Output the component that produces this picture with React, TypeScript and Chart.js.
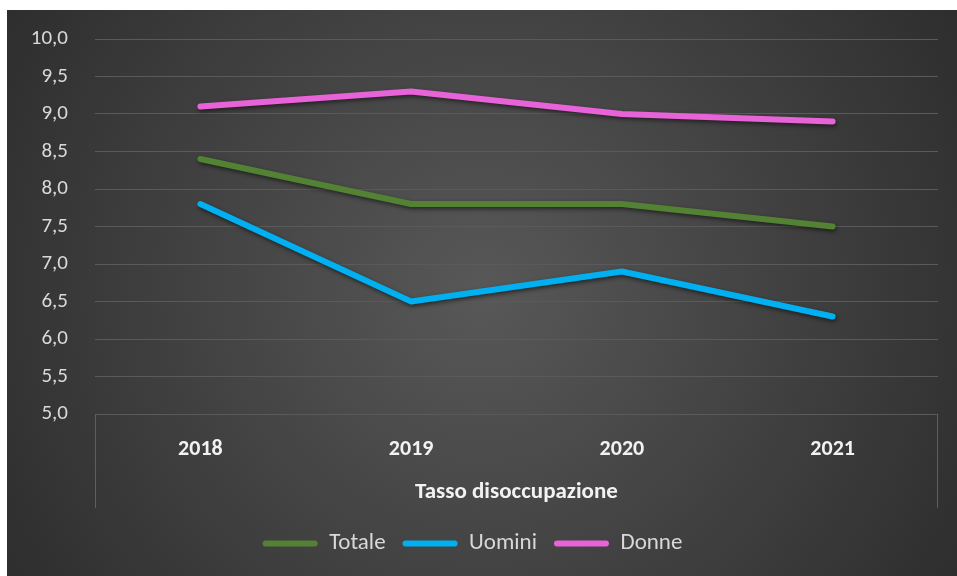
import React, { useEffect, useRef } from "react";
import { Chart, registerables } from "chart.js";

Chart.register(...registerables);

const categories = ["2018", "2019", "2020", "2021"];
const totale = [8.4, 7.8, 7.8, 7.5];
const uomini = [7.8, 6.5, 6.9, 6.3];
const donne = [9.1, 9.3, 9.0, 8.9];
const seriesNames = ["Totale", "Uomini", "Donne"];
const seriesColors = ["#548235", "#00b0f0", "#e862d8"];
const axisTitle = "Tasso disoccupazione";
const yMin = 5;
const yMax = 10;
const yStep = 0.5;

const FONT = "Carlito, Calibri, Lato, 'Open Sans', sans-serif";

const bgPlugin = {
  id: "bg",
  beforeDraw(chart: any) {
    const { ctx, width, height } = chart;
    ctx.save();
    const g = ctx.createRadialGradient(width * 0.5, height * 0.5, 0, width * 0.5, height * 0.5, width * 0.62);
    g.addColorStop(0, "#585858");
    g.addColorStop(1, "#2b2b2b");
    ctx.fillStyle = g;
    ctx.fillRect(0, 0, width, height);
    ctx.restore();
  },
  afterDraw(chart: any) {
    const { ctx, chartArea } = chart;
    const xs = chart.scales.x;
    ctx.save();
    ctx.strokeStyle = "#5e5e5e";
    ctx.lineWidth = 1;
    ctx.beginPath();
    const bottom = xs.bottom - 7;
    ctx.moveTo(Math.round(chartArea.left) + 0.5, chartArea.bottom);
    ctx.lineTo(Math.round(chartArea.left) + 0.5, bottom);
    ctx.moveTo(Math.round(chartArea.right) - 0.5, chartArea.bottom);
    ctx.lineTo(Math.round(chartArea.right) - 0.5, bottom);
    ctx.stroke();
    ctx.restore();
  },
  beforeDatasetDraw(chart: any) {
    const ctx = chart.ctx;
    ctx.save();
    ctx.shadowColor = "rgba(0,0,0,0.55)";
    ctx.shadowBlur = 4;
    ctx.shadowOffsetX = 1;
    ctx.shadowOffsetY = 2;
  },
  afterDatasetDraw(chart: any) {
    chart.ctx.restore();
  },
};

export default function App() {
  const ref = useRef<HTMLCanvasElement>(null);
  useEffect(() => {
    if (!ref.current) return;
    const values = [totale, uomini, donne];
    const chart = new Chart(ref.current, {
      type: "line",
      data: {
        labels: categories,
        datasets: seriesNames.map((n, i) => ({
          label: n,
          data: values[i],
          borderColor: seriesColors[i],
          backgroundColor: seriesColors[i],
          borderWidth: 6,
          borderCapStyle: "round",
          borderJoinStyle: "round",
          pointRadius: 0,
          tension: 0,
        })),
      },
      options: {
        animation: false,
        responsive: false,
        maintainAspectRatio: false,
        layout: { padding: { top: 29, right: 19, bottom: 11, left: 0 } },
        plugins: {
          tooltip: { enabled: false },
          legend: {
            position: "bottom",
            labels: {
              color: "#d9d9d9",
              font: { family: FONT, size: 23 },
              boxWidth: 55,
              boxHeight: 6,
              padding: 17,
              useBorderRadius: true,
              borderRadius: 3,
              generateLabels: (c: any) =>
                c.data.datasets.map((d: any, i: number) => ({
                  text: d.label,
                  fillStyle: d.borderColor,
                  strokeStyle: d.borderColor,
                  lineWidth: 0,
                  borderRadius: 3,
                  datasetIndex: i,
                  fontColor: "#d9d9d9",
                })),
            },
          },
        },
        scales: {
          x: {
            offset: true,
            grid: { display: false, drawTicks: false },
            border: { display: false },
            ticks: {
              color: "#f2f2f2",
              font: { family: FONT, size: 22, weight: "bold" },
              padding: 22,
            },
            title: {
              display: true,
              text: axisTitle,
              color: "#f2f2f2",
              font: { family: FONT, size: 23, weight: "bold" },
              padding: { top: 0, bottom: 9 },
            },
            afterFit: (s: any) => {
              s.height = 101;
              s.paddingLeft = 0;
              s.paddingRight = 0;
            },
          },
          y: {
            min: yMin,
            max: yMax,
            grid: { color: "#5a5a5a", lineWidth: 1, drawTicks: false },
            border: { display: false },
            ticks: {
              stepSize: yStep,
              color: "#d9d9d9",
              font: { family: FONT, size: 21 },
              padding: 27,
              callback: (v: any) => Number(v).toFixed(1).replace(".", ","),
            },
            afterFit: (s: any) => {
              s.width = 88;
              s.paddingTop = 0;
              s.paddingBottom = 0;
            },
          },
        },
      },
      plugins: [bgPlugin],
    } as any);
    return () => chart.destroy();
  }, []);
  return (
    <div style={{ position: "absolute", left: 7, top: 10, width: 950, height: 566 }}>
      <canvas ref={ref} width={950} height={566} style={{ display: "block" }} />
    </div>
  );
}
